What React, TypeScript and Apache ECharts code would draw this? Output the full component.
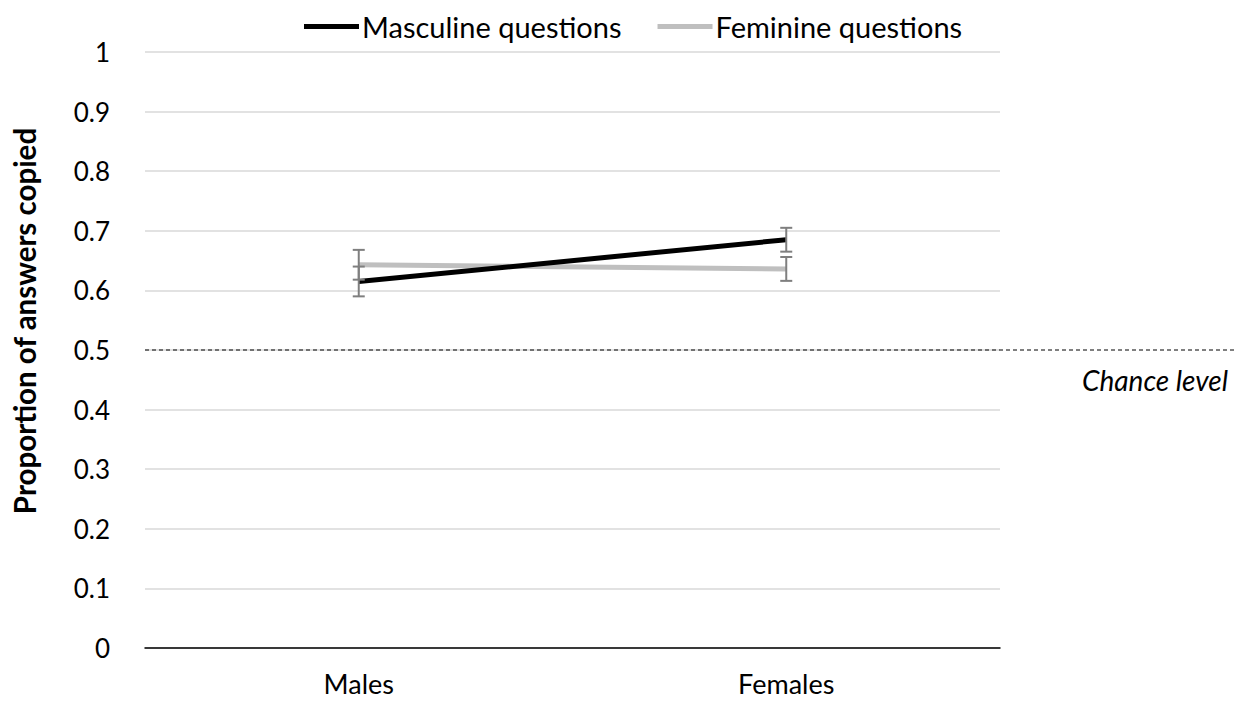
import React, { useEffect, useRef } from "react";
import * as echarts from "echarts";

const categories = ["Males", "Females"];
const masculine = [0.615, 0.685];
const feminine = [0.643, 0.636];
const masculineErr = [0.025, 0.02];
const feminineErr = [0.025, 0.02];
const chanceLevel = 0.5;
const yTitle = "Proportion of answers copied";
const FONT = "Lato, 'Open Sans', sans-serif";

export default function App() {
  const ref = useRef<HTMLDivElement>(null);
  useEffect(() => {
    const chart = echarts.init(ref.current!, null, { renderer: "svg" });
    const errData = (vals: number[], errs: number[]) =>
      vals.map((v, i) => [i, v - errs[i], v + errs[i]]);
    const errorSeries = (name: string, vals: number[], errs: number[]) => ({
      type: "custom",
      name: name + " err",
      z: 5,
      data: errData(vals, errs),
      renderItem: (params: any, api: any) => {
        const x = api.value(0);
        const lo = api.coord([x, api.value(1)]);
        const hi = api.coord([x, api.value(2)]);
        const w = 6;
        const style = { stroke: "#7f7f7f", lineWidth: 2 };
        return {
          type: "group",
          children: [
            { type: "line", shape: { x1: lo[0], y1: lo[1], x2: hi[0], y2: hi[1] }, style },
            { type: "line", shape: { x1: lo[0] - w, y1: lo[1], x2: lo[0] + w, y2: lo[1] }, style },
            { type: "line", shape: { x1: hi[0] - w, y1: hi[1], x2: hi[0] + w, y2: hi[1] }, style },
          ],
        };
      },
    });
    chart.setOption({
      animation: false,
      textStyle: { fontFamily: FONT },
      legend: {
        top: 7,
        left: 299,
        icon: "rect",
        itemWidth: 55,
        itemHeight: 5,
        itemGap: 36,
        data: ["Masculine questions", "Feminine questions"],
        textStyle: { fontSize: 29, color: "#000", fontFamily: FONT, padding: [0, 0, 0, -2] },
      },
      grid: { left: 145, right: 245, top: 52, bottom: 54 },
      xAxis: {
        type: "category",
        data: categories,
        boundaryGap: true,
        axisLine: { lineStyle: { color: "#000", width: 1.5 } },
        axisTick: { show: false },
        axisLabel: { fontSize: 27, lineHeight: 27, color: "#000", margin: 22 },
      },
      yAxis: {
        type: "value",
        min: 0,
        max: 1,
        interval: 0.1,
        axisLine: { show: false },
        axisTick: { show: false },
        axisLabel: {
          fontSize: 26,
          color: "#000",
          margin: 35,
          formatter: (v: number) => String(Math.round(v * 10) / 10),
        },
        splitLine: { lineStyle: { color: "#d9d9d9", width: 1.5 } },
      },
      series: [
        {
          type: "line",
          name: "Masculine questions",
          data: masculine,
          symbol: "none",
          z: 4,
          lineStyle: { color: "#000", width: 5 },
          itemStyle: { color: "#000" },
        },
        {
          type: "line",
          name: "Feminine questions",
          data: feminine,
          symbol: "none",
          z: 3,
          lineStyle: { color: "#bfbfbf", width: 5 },
          itemStyle: { color: "#bfbfbf" },
        },
        errorSeries("Masculine questions", masculine, masculineErr),
        errorSeries("Feminine questions", feminine, feminineErr),
      ],
    });
    const y = chart.convertToPixel({ yAxisIndex: 0 }, chanceLevel) as number;
    const x0 = chart.convertToPixel({ xAxisIndex: 0 }, 0) as number;
    const gridLeft = x0 - ((chart.convertToPixel({ xAxisIndex: 0 }, 1) as number) - x0) / 2;
    chart.setOption({
      graphic: [
        {
          type: "line",
          shape: { x1: gridLeft, y1: y, x2: 1235, y2: y },
          style: { stroke: "#000", lineWidth: 1, lineDash: [4, 3] },
          z: 10,
        },
        {
          type: "text",
          right: 17,
          top: y + 16,
          style: {
            text: "Chance level",
            fontSize: 28,
            fontStyle: "italic",
            fill: "#000",
            fontFamily: FONT,
          },
        },
        {
          type: "text",
          x: 24,
          y: 321,
          rotation: Math.PI / 2,
          style: {
            text: yTitle,
            fontSize: 29.5,
            fontWeight: "bold",
            fill: "#000",
            fontFamily: FONT,
            align: "center",
            verticalAlign: "middle",
          },
        },
      ],
    });
    return () => chart.dispose();
  }, []);
  return <div ref={ref} style={{ width: 1245, height: 702, position: "absolute", left: 0, top: 0 }} />;
}
